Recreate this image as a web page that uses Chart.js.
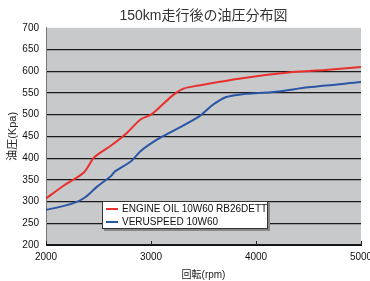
<!DOCTYPE html>
<html>
<head>
<meta charset="utf-8">
<script src="https://cdn.jsdelivr.net/npm/chart.js@4/dist/chart.umd.min.js"></script>
<style>
  body { margin: 0; background: #fff; }
  #wrap { position: relative; width: 370px; height: 281px; }
  #legende {
    position: absolute; left: 102px; top: 201px; width: 164px; height: 26px;
    background: #fff; border: 1px solid #333; box-shadow: 2px 2px 0 #888;
    font: 10px "Liberation Sans", Arial, sans-serif; color: #111;
  }
  .zeile { position: absolute; left: 3px; height: 12px; line-height: 12px; white-space: nowrap; }
  .zeile span { display: inline-block; width: 12px; height: 2px; vertical-align: middle; margin-right: 4px; }
</style>
</head>
<body>
<div id="wrap">
  <canvas id="oilChart" width="370" height="281"></canvas>
  <div id="legende">
    <div class="zeile" style="top:1px"><span style="background:#e8302c"></span>ENGINE OIL 10W60 RB26DETT</div>
    <div class="zeile" style="top:14px"><span style="background:#2b55a5"></span>VERUSPEED 10W60</div>
  </div>
</div>
<script>
// Werte
const rpmRot = [2000, 2170, 2360, 2460, 2620, 2770, 2900, 3000, 3100, 3210, 3310, 3450, 3870, 4350, 4660, 5000];
const druckRot = [307, 337, 367, 402, 429, 458, 489, 500, 521, 545, 560, 567, 584, 598, 603, 610];
const rpmBlau = [2000, 2170, 2300, 2380, 2490, 2620, 2660, 2810, 2900, 3060, 3220, 3460, 3580, 3710, 3840, 4190, 4500, 5000];
const druckBlau = [281, 290, 300, 311, 335, 359, 370, 393, 416, 443, 464, 496, 521, 540, 546, 553, 563, 575];
const xTicks = [2000, 3000, 4000, 5000];
const serienNamen = ["ENGINE OIL 10W60 RB26DETT", "VERUSPEED 10W60"];

const punkte = (xs, ys) => xs.map((x, i) => ({ x: x, y: ys[i] }));
const schrift = '"Liberation Sans", Arial, "Noto Sans CJK JP", sans-serif';

// grauer Hintergrund + kleine Striche nach innen an der x-Achse
const plotBg = {
  id: "plotBg",
  beforeDraw(chart) {
    const { ctx, chartArea: a } = chart;
    ctx.save();
    ctx.fillStyle = "#c8c9cb";
    ctx.fillRect(a.left, a.top, a.right - a.left, a.bottom - a.top);
    ctx.restore();
  },
  afterDraw(chart) {
    const { ctx, chartArea: a, scales } = chart;
    ctx.save();
    ctx.strokeStyle = "#222";
    ctx.lineWidth = 1;
    xTicks.forEach(v => {
      const px = Math.round(scales.x.getPixelForValue(v)) + 0.5;
      ctx.beginPath();
      ctx.moveTo(px, a.bottom);
      ctx.lineTo(px, a.bottom - 4);
      ctx.stroke();
    });
    ctx.restore();
  }
};

new Chart(document.getElementById("oilChart"), {
  type: "line",
  data: {
    datasets: [
      { label: serienNamen[0], data: punkte(rpmRot, druckRot), borderColor: "#e8302c", borderWidth: 2, pointRadius: 0, tension: 0.3 },
      { label: serienNamen[1], data: punkte(rpmBlau, druckBlau), borderColor: "#2b55a5", borderWidth: 2, pointRadius: 0, tension: 0.3 }
    ]
  },
  options: {
    responsive: false,
    animation: false,
    layout: { padding: { left: 6, right: 9, top: 0, bottom: 0 } },
    plugins: {
      legend: { display: false },
      tooltip: { enabled: false },
      title: {
        display: true,
        fullSize: false,
        text: "150km走行後の油圧分布図",
        color: "#333",
        font: { family: schrift, size: 14, weight: "normal" },
        padding: { top: 8, bottom: 3 }
      }
    },
    scales: {
      x: {
        type: "linear",
        min: 2000,
        max: 5000,
        afterBuildTicks: s => { s.ticks = xTicks.map(v => ({ value: v })); },
        afterFit: s => { s.height = 36; s.paddingLeft = 0; s.paddingRight = 0; },
        grid: { drawOnChartArea: false, drawTicks: false },
        border: { color: "#111", width: 1 },
        ticks: { color: "#111", padding: 6, font: { family: schrift, size: 10 }, callback: v => String(v) },
        title: { display: true, text: "回転(rpm)", color: "#222", padding: 0, font: { family: schrift, size: 10 } }
      },
      y: {
        min: 200,
        max: 700,
        afterFit: s => { s.width = 40; s.paddingTop = 0; s.paddingBottom = 0; },
        ticks: { stepSize: 50, color: "#111", padding: 7, font: { family: schrift, size: 10 } },
        grid: {
          drawTicks: false,
          lineWidth: 1.2,
          color: c => (c.tick && c.tick.value === 700 ? "rgba(0,0,0,0)" : "#1a1a1a")
        },
        border: { color: "#777", width: 1 },
        title: { display: true, text: "油圧(Kpa)", color: "#222", padding: 0, font: { family: schrift, size: 11 } }
      }
    }
  },
  plugins: [plotBg]
});
</script>
</body>
</html>
